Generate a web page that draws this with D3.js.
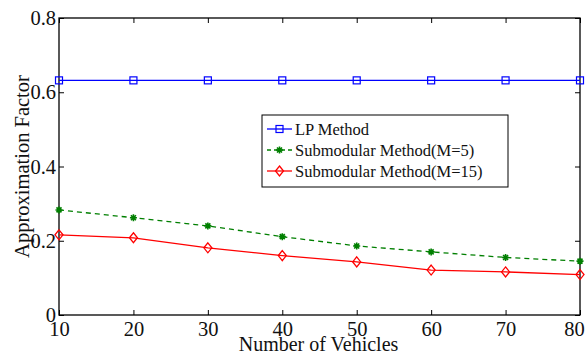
<!DOCTYPE html>
<html>
<head>
<meta charset="utf-8">
<script src="https://cdn.jsdelivr.net/npm/d3@7"></script>
<style>
  body { margin: 0; background: #fff; }
  svg text { font-family: "Liberation Serif", "DejaVu Serif", serif; }
</style>
</head>
<body>
<div id="app"></div>
<script>
// data
const vehicles = [10, 20, 30, 40, 50, 60, 70, 80];
const lpMethod = [0.632, 0.632, 0.632, 0.632, 0.632, 0.632, 0.632, 0.632];
const subM5 = [0.283, 0.262, 0.240, 0.211, 0.186, 0.170, 0.155, 0.145];
const subM15 = [0.216, 0.208, 0.181, 0.160, 0.143, 0.121, 0.116, 0.109];
const xTicks = [10, 20, 30, 40, 50, 60, 70, 80];
const yTicks = [0, 0.2, 0.4, 0.6, 0.8];

const width = 588, height = 354;
const margin = { top: 18, right: 8, bottom: 39, left: 59 };
const innerW = width - margin.left - margin.right;
const innerH = height - margin.top - margin.bottom;
const serif = "Liberation Serif, DejaVu Serif, serif";

const svg = d3.select("#app").append("svg")
  .attr("width", width)
  .attr("height", height);

const g = svg.append("g").attr("transform", `translate(${margin.left},${margin.top})`);

const x = d3.scaleLinear().domain([10, 80]).range([0, innerW]);
const y = d3.scaleLinear().domain([0, 0.8]).range([innerH, 0]);

const fmt = d => d === 0 ? "0" : d3.format(".1f")(d);

// axes, matlab style ticks pointing inward
g.append("g").attr("transform", `translate(0,${innerH})`)
  .call(d3.axisBottom(x).tickValues(xTicks).tickSizeInner(-5).tickSizeOuter(0).tickPadding(6))
  .call(a => a.selectAll("text").attr("font-size", 20.5).attr("fill", "#111"))
  .call(a => a.selectAll(".tick text").filter(d => d === 80).attr("dx", -6));
g.append("g").attr("transform", `translate(0,0)`)
  .call(d3.axisTop(x).tickValues(xTicks).tickSizeInner(-5).tickSizeOuter(0).tickFormat(""));
g.append("g")
  .call(d3.axisLeft(y).tickValues(yTicks).tickFormat(fmt).tickSizeInner(-5).tickSizeOuter(0).tickPadding(3))
  .call(a => a.selectAll("text").attr("font-size", 20.5).attr("fill", "#111"));
g.append("g").attr("transform", `translate(${innerW},0)`)
  .call(d3.axisRight(y).tickValues(yTicks).tickSizeInner(-5).tickSizeOuter(0).tickFormat(""));

g.selectAll(".domain").remove();
g.selectAll(".tick line").attr("stroke", "#000");
g.selectAll("g").attr("font-family", serif);

g.append("rect")
  .attr("width", innerW).attr("height", innerH)
  .attr("fill", "none").attr("stroke", "#000").attr("stroke-width", 1.3);

// axis titles
svg.append("text")
  .attr("x", margin.left + innerW / 2 - 1).attr("y", 351)
  .attr("text-anchor", "middle").attr("font-size", 20).attr("fill", "#111")
  .attr("font-family", serif)
  .text("Number of Vehicles");
svg.append("text")
  .attr("transform", `translate(29,${margin.top + innerH / 2}) rotate(-90)`)
  .attr("text-anchor", "middle").attr("font-size", 20.5).attr("fill", "#111")
  .attr("font-family", serif)
  .text("Approximation Factor");

const line = d3.line().x(d => x(d[0])).y(d => y(d[1]));

const series = [
  { name: "LP Method", values: lpMethod, color: "#0000ff", dash: null, marker: "square" },
  { name: "Submodular Method(M=5)", values: subM5, color: "#007f00", dash: "5,4", marker: "star" },
  { name: "Submodular Method(M=15)", values: subM15, color: "#ff0000", dash: null, marker: "diamond" }
];

function drawMarker(sel, type, color) {
  if (type === "square") {
    sel.append("rect").attr("x", -3.5).attr("y", -3.5).attr("width", 7).attr("height", 7)
      .attr("fill", "none").attr("stroke", color).attr("stroke-width", 1.2);
  } else if (type === "diamond") {
    sel.append("path").attr("d", "M0,-5L4,0L0,5L-4,0Z")
      .attr("fill", "none").attr("stroke", color).attr("stroke-width", 1.3);
  } else {
    sel.append("path").attr("d", "M-3.5,0H3.5M0,-3.5V3.5M-2.5,-2.5L2.5,2.5M-2.5,2.5L2.5,-2.5")
      .attr("stroke", color).attr("stroke-width", 1.6);
  }
}

series.forEach(s => {
  const pts = vehicles.map((v, i) => [v, s.values[i]]);
  g.append("path").datum(pts)
    .attr("fill", "none").attr("stroke", s.color).attr("stroke-width", 1.3)
    .attr("stroke-dasharray", s.dash)
    .attr("d", line);
  g.selectAll(null).data(pts).enter().append("g")
    .attr("transform", d => `translate(${x(d[0])},${y(d[1])})`)
    .each(function () { drawMarker(d3.select(this), s.marker, s.color); });
});

// legend
const legend = svg.append("g").attr("transform", "translate(262,115)");
legend.append("rect").attr("width", 246).attr("height", 72)
  .attr("fill", "#fff").attr("stroke", "#000").attr("stroke-width", 1);
series.forEach((s, i) => {
  const row = legend.append("g").attr("transform", `translate(0,${14 + i * 21})`);
  row.append("line").attr("x1", 5).attr("x2", 30)
    .attr("stroke", s.color).attr("stroke-width", 1.3).attr("stroke-dasharray", s.dash ? "4,3" : null);
  drawMarker(row.append("g").attr("transform", "translate(17.5,0)"), s.marker, s.color);
  row.append("text").attr("x", 33).attr("y", 5.5)
    .attr("font-size", 16.5).attr("fill", "#111").attr("font-family", serif).text(s.name);
});
</script>
</body>
</html>
